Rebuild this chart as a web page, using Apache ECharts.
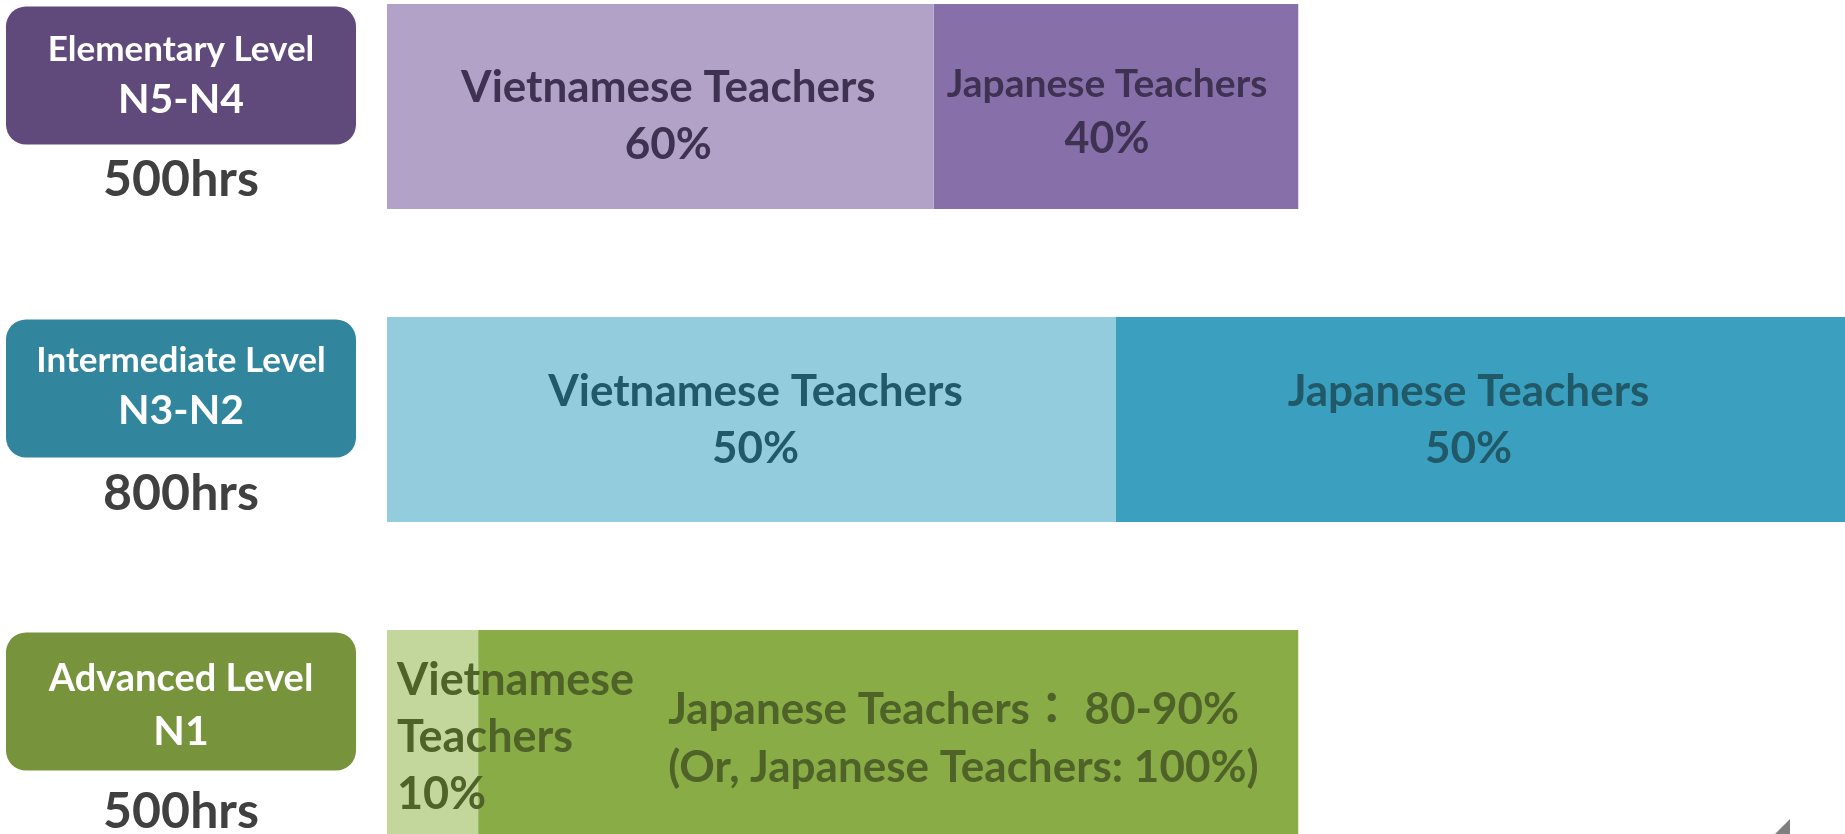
<!DOCTYPE html>
<html>
<head>
<meta charset="utf-8">
<script src="https://cdn.jsdelivr.net/npm/echarts@6/dist/echarts.min.js"></script>
<style>
  html, body { margin: 0; padding: 0; background: #ffffff; }
  #chart { width: 1845px; height: 834px; }
</style>
</head>
<body>
<div id="chart"></div>
<script>
// ---- data ----
const levelNames = ['Elementary Level', 'Intermediate Level', 'Advanced Level'];
const levelCodes = ['N5-N4', 'N3-N2', 'N1'];
const totalHours = ['500hrs', '800hrs', '500hrs'];
const vnHours = [300, 400, 50];   // hours taught by Vietnamese teachers
const jpHours = [200, 400, 450];  // hours taught by Japanese teachers
const vnLabels = ['Vietnamese Teachers\n60%', 'Vietnamese Teachers\n50%', 'Vietnamese\nTeachers\n10%'];
const jpLabels = ['Japanese Teachers\n40%', 'Japanese Teachers\n50%', 'Japanese Teachers： 80-90%\n(Or, Japanese Teachers: 100%)'];

// ---- styles ----
const FONT = 'Lato, "Noto Sans CJK JP", "Noto Sans", sans-serif';
const boxColors = ['#604A7B', '#31859C', '#77933C'];
const vnColors = ['#B2A2C7', '#93CDDD', '#C3D69B'];
const jpColors = ['#8770A9', '#3BA0C0', '#8AAC46'];
const textColors = ['#3F3151', '#215968', '#4F6228'];
const boxText = [
  { nameSize: 35, nameDy: -57, codeDy: -7, hoursDy: 73 },
  { nameSize: 35, nameDy: -59, codeDy: -9, hoursDy: 74 },
  { nameSize: 38, nameDy: -54, codeDy: -1, hoursDy: 79 }
];

const baseLabel = (i) => ({
  show: true, color: textColors[i], fontFamily: FONT, fontWeight: 'bold',
  fontSize: 44, lineHeight: 57, align: 'center', verticalAlign: 'middle'
});

const vnLabelStyles = [
  Object.assign(baseLabel(0), { position: 'inside', offset: [8, 10] }),
  Object.assign(baseLabel(1), { position: 'inside', offset: [4, 1] }),
  Object.assign(baseLabel(2), { position: [10, '50%'], align: 'left', fontSize: 45, offset: [0, 5] })
];
const jpLabelStyles = [
  Object.assign(baseLabel(0), {
    position: 'inside', offset: [-9, 5],
    formatter: (p) => { const s = p.data.text.split('\n'); return '{s|' + s[0] + '}\n{m|' + s[1] + '}'; },
    rich: {
      s: { fontFamily: FONT, fontWeight: 'bold', fontSize: 39, lineHeight: 55, color: textColors[0] },
      m: { fontFamily: FONT, fontWeight: 'bold', fontSize: 43, lineHeight: 55, color: textColors[0] }
    }
  }),
  Object.assign(baseLabel(1), { position: 'inside', offset: [-12, 1] }),
  Object.assign(baseLabel(2), { position: [190, '50%'], align: 'left', lineHeight: 58, offset: [0, 6] })
];

const chart = echarts.init(document.getElementById('chart'), null, { renderer: 'canvas' });

const option = {
  backgroundColor: '#ffffff',
  animation: false,
  grid: { left: 387, width: 1461, top: 106.5, height: 626, containLabel: false },
  xAxis: { type: 'value', min: 0, max: 800, show: false },
  yAxis: { type: 'category', data: levelNames, inverse: true, boundaryGap: false, show: false },
  series: [
    {
      name: 'Vietnamese Teachers', type: 'bar', stack: 'h', barWidth: 205, z: 3,
      data: vnHours.map((v, i) => ({
        value: v, text: vnLabels[i], itemStyle: { color: vnColors[i] },
        label: Object.assign({ formatter: (p) => p.data.text }, vnLabelStyles[i])
      }))
    },
    {
      name: 'Japanese Teachers', type: 'bar', stack: 'h', barWidth: 205, z: 2,
      data: jpHours.map((v, i) => ({
        value: v, text: jpLabels[i], itemStyle: { color: jpColors[i] },
        label: Object.assign({ formatter: (p) => p.data.text }, jpLabelStyles[i])
      }))
    },
    {
      name: 'Levels', type: 'custom', clip: false, z: 5,
      encode: { x: 0, y: 1 },
      data: levelNames.map((n, i) => [0, i]),
      renderItem: function (params, api) {
        const i = api.value(1);
        const p = api.coord([0, i]);
        const left = p[0] - 381;
        const cx = left + 175;
        const y = p[1];
        const t = boxText[i];
        return {
          type: 'group',
          children: [
            { type: 'rect', shape: { x: left, y: y - 100, width: 350, height: 138, r: 20 },
              style: { fill: boxColors[i] } },
            { type: 'text', style: { text: levelNames[i], x: cx, y: y + t.nameDy, align: 'center', verticalAlign: 'middle',
              fill: '#ffffff', fontFamily: FONT, fontWeight: 'bold', fontSize: t.nameSize } },
            { type: 'text', style: { text: levelCodes[i], x: cx, y: y + t.codeDy, align: 'center', verticalAlign: 'middle',
              fill: '#ffffff', fontFamily: FONT, fontWeight: 'bold', fontSize: 41 } },
            { type: 'text', style: { text: totalHours[i], x: cx, y: y + t.hoursDy, align: 'center', verticalAlign: 'middle',
              fill: '#404040', fontFamily: FONT, fontWeight: 'bold', fontSize: 50 } }
          ]
        };
      }
    }
  ],
  graphic: [
    { type: 'polygon', shape: { points: [[1790, 819], [1790, 834], [1775, 834]] }, style: { fill: '#808080' } }
  ]
};

chart.setOption(option);
</script>
</body>
</html>
